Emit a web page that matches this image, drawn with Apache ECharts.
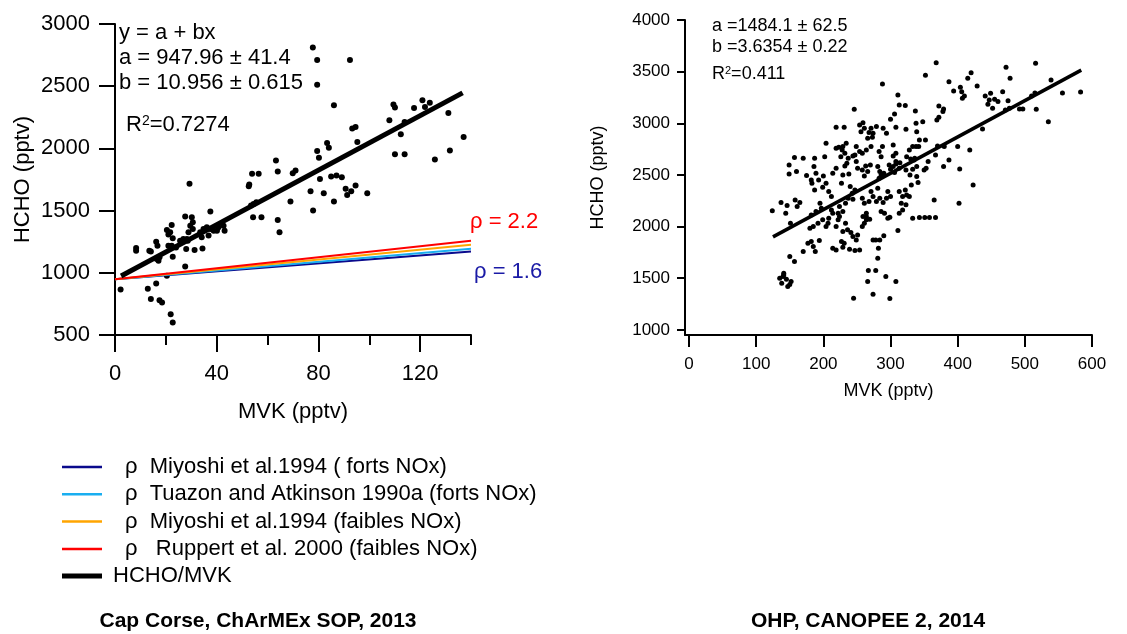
<!DOCTYPE html>
<html>
<head>
<meta charset="utf-8">
<script src="https://cdn.jsdelivr.net/npm/echarts@6/dist/echarts.min.js"></script>
<style>html,body{margin:0;padding:0;background:#fff}#c{width:1127px;height:634px}</style>
</head>
<body>
<div id="c"></div>
<script>
// ---------- Left panel data (Cap Corse) ----------
const leftMVK = [77.8,79.5,92.4,79.5,86.1,109.5,110.1,107.9,117.6,120.9,121.9,123.8,131.1,113.9,112.4,137.1,110.1,113.9,125.8,131.7,
  93.3,94.6,95.3,83.4,84.1,79.5,80.2,63.3,64,69.9,71,53.9,56.5,52.8,52.6,29.3,80.6,85,87.1,89.2,
  76.9,82.1,90.7,91.3,92.9,94.6,99.2,86.1,69,77.9,54.5,55.6,53.5,54.3,57.6,64,64.7,37.5,27.6,30.2,
  30.6,22.3,20.4,21.7,22.7,25.6,26.9,28.9,29.6,30.6,28.3,28.6,33.5,34.8,36.1,34.1,36.8,37.5,38.8,40.1,
  40.7,42.7,43.1,21,22.3,24,8.3,8.3,13.5,14.1,16.2,16.7,28,31.3,34.4,16.4,17.5,17.1,22.7,27.6,
  20.4,2.2,12.9,16.2,14.1,17.5,18.5,21.9,22.7,21];
const leftHCHO = [2812,2710,2710,2511,2347,2352,2328,2226,2325,2387,2333,2366,2285,2212,2113,2091,1952,1952,1911,1984,
  2159,2172,2051,2043,2005,1979,1925,1903,1815,1801,1823,1796,1796,1710,1696,1715,1755,1774,1782,1769,
  1656,1640,1675,1626,1656,1702,1640,1573,1573,1500,1554,1567,1540,1446,1446,1425,1325,1492,1452,1446,
  1406,1384,1344,1325,1277,1258,1272,1325,1379,1352,1272,1258,1325,1352,1366,1285,1299,1352,1339,1339,
  1366,1379,1339,1218,1218,1204,1199,1177,1177,1172,1250,1218,1191,1183,1196,1110,1124,1097,1129,1051,
  976,866,871,914,790,780,761,667,600,1307];
const leftFitMVK = [2.4, 136.7];
const leftFitHCHO = [974, 2446];
const rhoMVK = [0, 140];
const rhoMiyoshiHigh = [948, 1172];
const rhoTuazon = [948, 1194];
const rhoMiyoshiLow = [948, 1226];
const rhoRuppert = [948, 1258];
const leftXLabels = [0, 40, 80, 120];

// ---------- Right panel data (OHP) ----------
const rightMVK = [368,516,472,352,420,415,478,539,288,387,404,429,394,406,410,407,441,449,447,445,455,460,452,467,475,471,477,
  510,515,556,583,492,497,517,535,311,313,322,372,379,378,372,369,337,338,348,300,306,246,219,231,254,259,261,256,
  271,268,274,279,273,266,289,294,308,323,339,343,352,333,338,342,370,367,380,400,418,437,423,402,387,379,403,
  356,353,350,336,335,330,328,324,304,308,304,288,283,286,271,264,258,249,247,254,234,229,228,232,223,226,
  204,202,219,187,186,189,170,157,149,160,149,175,182,183,187,193,200,204,199,214,219,212,208,
  232,235,238,229,227,244,237,249,251,258,263,266,270,261,281,284,286,283,290,
  298,300,304,306,308,313,314,308,323,329,333,339,339,341,331,322,324,328,313,318,316,323,318,313,
  333,343,351,358,367,365,296,300,294,289,284,271,274,279,281,268,258,261,264,259,264,269,
  286,291,296,299,240,247,243,244,233,237,224,229,222,212,214,208,195,197,189,182,199,192,185,180,
  204,207,219,222,224,233,236,229,241,244,249,251,258,261,264,274,278,284,290,311,
  227,231,229,239,247,254,214,219,182,185,177,194,188,170,150,157,282,281,
  141,140,145,152,147,141,135,138,150,267,278,266,274,293,308,245,299,161,165,158,137,146,124,144,151];
const rightHCHO = [3587,3581,3542,3464,3490,3435,3435,3419,3381,3403,3348,3361,3313,3306,3264,3242,3264,3290,3226,3184,3232,3210,3145,3306,3219,3129,3145,
  3264,3293,3293,3303,3139,3139,3135,3016,3274,3177,3171,3168,3139,3113,3058,3032,3119,3000,3016,3039,3090,3135,2961,2961,2984,3006,2952,2919,
  2952,2910,2903,2968,2864,2855,2952,2903,2961,2942,2919,2839,2839,2774,2774,2774,2781,2694,2774,2774,2742,2945,2403,2226,2645,2581,2558,
  2629,2565,2548,2661,2645,2655,2742,2677,2790,2710,2684,2774,2726,2677,2774,2742,2710,2774,2694,2726,2806,2774,2742,2710,2768,2677,
  2806,2677,2758,2661,2581,2516,2661,2668,2597,2532,2510,2494,2452,2419,2355,2452,2490,2419,2381,2516,2565,2290,2339,
  2587,2613,2510,2500,2419,2684,2661,2629,2565,2548,2587,2532,2597,2490,2581,2532,2500,2468,2516,
  2597,2555,2581,2523,2606,2565,2619,2629,2548,2500,2555,2581,2484,2426,2403,2355,2306,2290,2339,2290,2226,2210,2161,2129,
  2081,2087,2087,2087,2087,2258,2339,2290,2274,2232,2274,2339,2290,2242,2371,2242,2274,2226,2129,2097,2065,2071,
  2145,2129,2081,2090,2387,2355,2323,2264,2226,2274,2194,2145,2129,2161,2129,2081,2226,2177,2145,2113,2065,2032,2000,1984,
  2000,2032,2000,2065,2097,2032,1968,1952,1942,1903,1871,1919,2000,2032,2097,1871,1871,1871,1910,1961,
  1855,1839,1800,1781,1768,1774,1790,1774,1855,1806,1839,1865,1758,1758,1710,1661,1790,1694,
  1532,1516,1490,1468,1419,1548,1500,1450,1440,1574,1574,1468,1345,1516,1468,1306,1303,2194,2232,2258,2232,2203,2152,2129,2032];
const rightFitMVK = [125, 584];
const rightFitHCHO = [1900, 3515];
const rightXLabels = [0, 100, 200, 300, 400, 500, 600];
const rightYLabels = [1000, 1500, 2000, 2500, 3000, 3500, 4000];

// ---------- build ----------
const FF = 'Liberation Sans, Arial, sans-serif';
const zip = (xs, ys) => xs.map((x, i) => [x, ys[i]]);
const plain = v => String(v);
const names = {
  m16: 'ρ  Miyoshi et al.1994 ( forts NOx)',
  tu: 'ρ  Tuazon and Atkinson 1990a (forts NOx)',
  m2: 'ρ  Miyoshi et al.1994 (faibles NOx)',
  ru: 'ρ   Ruppert et al. 2000 (faibles NOx)',
  fit: 'HCHO/MVK'
};
function lineSeries(name, xs, ys, color, width, xi, yi, z) {
  return { type: 'line', name, xAxisIndex: xi, yAxisIndex: yi, data: zip(xs, ys), showSymbol: false, symbol: 'none',
    lineStyle: { color, width }, itemStyle: { color }, z: z || 3, animation: false };
}
const axisLineBlack = { show: true, onZero: false, lineStyle: { color: '#000', width: 2 } };

const chart = echarts.init(document.getElementById('c'), null, { renderer: 'canvas' });
chart.setOption({
  backgroundColor: '#fff',
  animation: false,
  textStyle: { fontFamily: FF },
  grid: [
    { left: 115, right: 656, top: 24, bottom: 299 },
    { left: 685, right: 35, top: 20, bottom: 299 }
  ],
  xAxis: [
    { gridIndex: 0, type: 'value', min: 0, max: 140, interval: 20, position: 'bottom',
      axisLine: axisLineBlack, splitLine: { show: false },
      axisTick: { show: true, length: 10, lineStyle: { color: '#000', width: 2 } },
      axisLabel: { fontSize: 22, color: '#000', fontFamily: FF, margin: 28,
        formatter: v => leftXLabels.indexOf(v) >= 0 ? String(v) : '' },
      name: 'MVK (pptv)', nameLocation: 'middle', nameGap: 66,
      nameTextStyle: { fontSize: 22, color: '#000', fontFamily: FF } },
    { gridIndex: 0, type: 'value', min: 0, max: 140, position: 'bottom', offset: 0,
      axisLine: { show: false, onZero: false }, splitLine: { show: false },
      axisTick: { show: true, length: 17, customValues: leftXLabels, lineStyle: { color: '#000', width: 2 } },
      axisLabel: { show: false } },
    { gridIndex: 1, type: 'value', min: -6, max: 600, position: 'bottom',
      axisLine: axisLineBlack, splitLine: { show: false },
      axisTick: { show: true, length: 12, customValues: rightXLabels, lineStyle: { color: '#000', width: 2 } },
      axisLabel: { fontSize: 17, color: '#000', fontFamily: FF, margin: 21, customValues: rightXLabels, formatter: plain },
      name: 'MVK (pptv)', nameLocation: 'middle', nameGap: 47,
      nameTextStyle: { fontSize: 18, color: '#000', fontFamily: FF } }
  ],
  yAxis: [
    { gridIndex: 0, type: 'value', min: 500, max: 3000, interval: 500,
      axisLine: axisLineBlack, splitLine: { show: false },
      axisTick: { show: true, length: 16, lineStyle: { color: '#000', width: 2 } },
      axisLabel: { fontSize: 22, color: '#000', fontFamily: FF, margin: 25, formatter: plain },
      name: 'HCHO (pptv)', nameLocation: 'middle', nameGap: 81,
      nameTextStyle: { fontSize: 22, color: '#000', fontFamily: FF } },
    { gridIndex: 1, type: 'value', min: 950, max: 4000,
      axisLine: axisLineBlack, splitLine: { show: false },
      axisTick: { show: true, length: 8, customValues: rightYLabels, lineStyle: { color: '#000', width: 2 } },
      axisLabel: { fontSize: 17, color: '#000', fontFamily: FF, margin: 15, customValues: rightYLabels, formatter: plain },
      name: 'HCHO (pptv)', nameLocation: 'middle', nameGap: 78,
      nameTextStyle: { fontSize: 18, color: '#000', fontFamily: FF } }
  ],
  legend: [
    { data: [names.m16, names.tu, names.m2, names.ru], orient: 'vertical', left: 62, top: 455, padding: 0,
      itemWidth: 40, itemHeight: 2.5, itemGap: 3.3, icon: 'rect', selectedMode: false,
      textStyle: { fontSize: 22, color: '#000', fontFamily: FF, lineHeight: 24, padding: [0, 0, 0, 18] } },
    { data: [names.fit], orient: 'vertical', left: 62, top: 564, padding: 0,
      itemWidth: 40, itemHeight: 5, icon: 'rect', selectedMode: false,
      textStyle: { fontSize: 22, color: '#000', fontFamily: FF, lineHeight: 24, padding: [0, 0, 0, 6] } }
  ],
  series: [
    { type: 'scatter', name: 'left points', xAxisIndex: 0, yAxisIndex: 0, data: zip(leftMVK, leftHCHO),
      symbolSize: 6, itemStyle: { color: '#000', opacity: 1 }, z: 2 },
    lineSeries(names.m16, rhoMVK, rhoMiyoshiHigh, '#0a0a8c', 2, 0, 0, 4),
    lineSeries(names.tu, rhoMVK, rhoTuazon, '#19aef0', 2, 0, 0, 4),
    lineSeries(names.m2, rhoMVK, rhoMiyoshiLow, '#ffa500', 2, 0, 0, 4),
    lineSeries(names.ru, rhoMVK, rhoRuppert, '#ff0000', 2, 0, 0, 4),
    lineSeries(names.fit, leftFitMVK, leftFitHCHO, '#000', 5, 0, 0, 5),
    { type: 'scatter', name: 'right points', xAxisIndex: 2, yAxisIndex: 1, data: zip(rightMVK, rightHCHO),
      symbolSize: 5, itemStyle: { color: '#000', opacity: 1 }, z: 2 },
    lineSeries('right fit', rightFitMVK, rightFitHCHO, '#000', 3.5, 2, 1, 5)
  ],
  graphic: [
    { type: 'text', x: 119, y: 33, style: { text: 'y = a + bx', font: '22px ' + FF, fill: '#000', textVerticalAlign: 'middle' } },
    { type: 'text', x: 119, y: 58, style: { text: 'a = 947.96 ± 41.4', font: '22px ' + FF, fill: '#000', textVerticalAlign: 'middle' } },
    { type: 'text', x: 119, y: 83, style: { text: 'b = 10.956 ± 0.615', font: '22px ' + FF, fill: '#000', textVerticalAlign: 'middle' } },
    { type: 'text', x: 126, y: 125, style: { text: '{a|R}{b|2}{a|=0.7274}', textVerticalAlign: 'middle',
        rich: { a: { fontSize: 22, fontFamily: FF, color: '#000' }, b: { fontSize: 14, fontFamily: FF, color: '#000', verticalAlign: 'top' } } } },
    { type: 'text', x: 470, y: 222, style: { text: 'ρ = 2.2', font: '22px ' + FF, fill: '#ff0000', textVerticalAlign: 'middle' } },
    { type: 'text', x: 474, y: 272, style: { text: 'ρ = 1.6', font: '22px ' + FF, fill: '#1a1aa6', textVerticalAlign: 'middle' } },
    { type: 'text', x: 712, y: 26, style: { text: 'a =1484.1 ± 62.5', font: '18px ' + FF, fill: '#000', textVerticalAlign: 'middle' } },
    { type: 'text', x: 712, y: 47, style: { text: 'b =3.6354 ± 0.22', font: '18px ' + FF, fill: '#000', textVerticalAlign: 'middle' } },
    { type: 'text', x: 712, y: 74, style: { text: '{a|R}{b|2}{a|=0.411}', textVerticalAlign: 'middle',
        rich: { a: { fontSize: 18, fontFamily: FF, color: '#000' }, b: { fontSize: 11, fontFamily: FF, color: '#000', verticalAlign: 'top' } } } },
    { type: 'text', x: 258, y: 621, style: { text: 'Cap Corse, ChArMEx SOP, 2013', font: 'bold 21px ' + FF, fill: '#000', textAlign: 'center', textVerticalAlign: 'middle' } },
    { type: 'text', x: 868, y: 621, style: { text: 'OHP, CANOPEE 2, 2014', font: 'bold 21px ' + FF, fill: '#000', textAlign: 'center', textVerticalAlign: 'middle' } }
  ]
});
</script>
</body>
</html>
